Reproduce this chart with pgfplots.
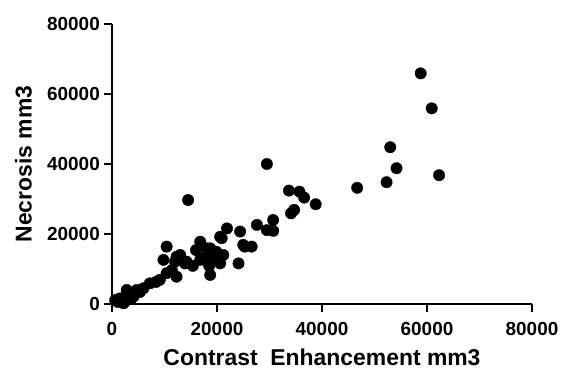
\documentclass[border=0pt]{standalone}
\usepackage{fontspec}
\setmainfont{Liberation Sans}
\usepackage{pgfplots}
\pgfplotsset{compat=1.18}
\begin{document}
\begin{tikzpicture}
\begin{axis}[
 scale only axis, width=420bp, height=280bp,
 xmin=0, xmax=80000, ymin=0, ymax=80000,
 axis x line=bottom, axis y line=left,
 axis line style={line width=2.6bp, -},
 xtick={0,20000,40000,60000,80000}, ytick={0,20000,40000,60000,80000},
 scaled ticks=false,
 tick align=outside,
 major tick length=8bp,
 every tick/.style={line width=2.6bp, black},
 /pgf/number format/assume math mode=true,
 /pgf/number format/set thousands separator={},
 ticklabel style={font=\bfseries\fontsize{19}{21}\selectfont},
 yticklabel style={anchor=east, inner sep=0pt, xshift=-4bp},
 xticklabel style={anchor=north, inner sep=0pt, yshift=-10bp},
 xlabel={Contrast\ \ Enhancement mm3},
 ylabel={Necrosis mm3},
 label style={font=\bfseries\fontsize{23}{26}\selectfont},
 xlabel style={at={(axis description cs:0.5,-0.2204)}, anchor=base, inner sep=0pt},
 ylabel style={at={(axis description cs:-0.2107,0.5)}, anchor=center, inner sep=0pt},
 clip=false,
]
\addplot[only marks, mark=*, mark size=5.7bp, black] table {
x y
58800 65900
60900 55900
62300 36800
53000 44800
54200 38800
52300 34800
46700 33200
38800 28500
33700 32400
35700 32100
36600 30400
34700 26900
34100 25900
29500 40000
30700 24000
27600 22600
29500 21100
30700 20900
24400 20700
25300 16400
26600 16400
24100 11600
14500 29700
21900 21600
20600 19200
16800 17800
18700 15900
19900 14900
21200 14000
10400 16400
9800 12600
13000 14000
14200 12100
12000 12100
16800 12600
18000 13100
19300 13100
18700 8300
20600 11600
12300 7800
10400 8800
9100 6900
7200 5900
6000 4500
4700 4000
3400 3100
2800 4000
1500 1600
600 1100
2800 1100
4100 2100
2200 200
13900 11600
12300 13500
17400 13100
20300 12600
20900 18800
19300 14500
18000 15900
25000 16900
15400 10900
11400 9700
8400 6300
5300 3400
1100 600
3600 1400
16000 15400
18500 10900
};
\end{axis}
\path (current axis.south west) ++(-112bp,-65bp) rectangle ++(563bp,369bp);
\end{tikzpicture}
\end{document}
